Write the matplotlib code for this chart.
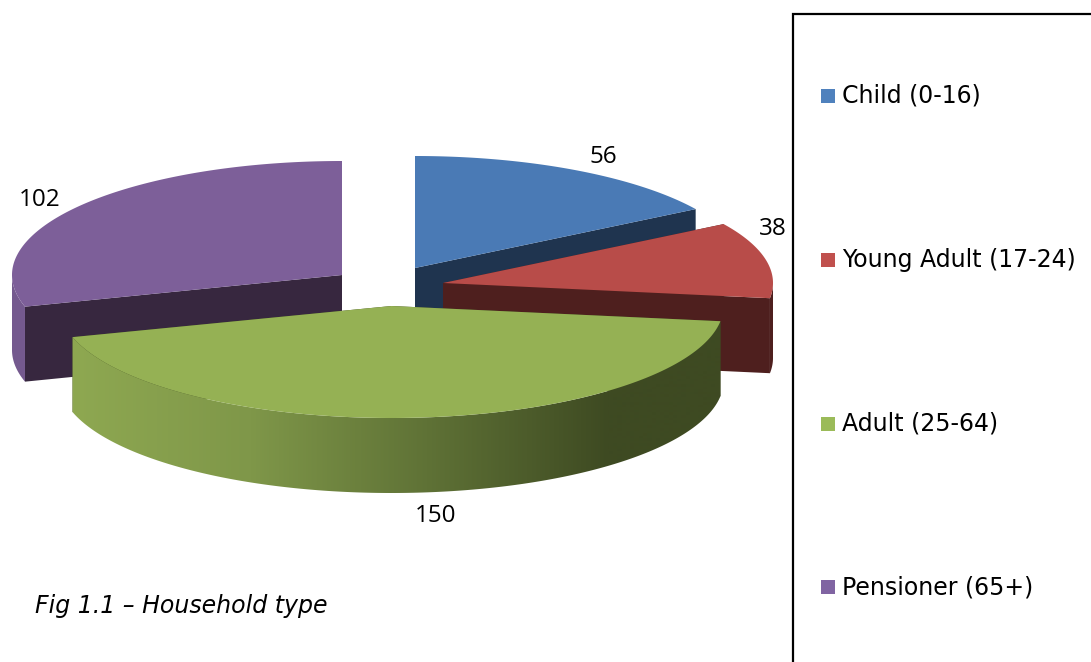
import numpy as np
import matplotlib
matplotlib.use("Agg")
import matplotlib.pyplot as plt
from matplotlib.patches import Polygon, Rectangle
from matplotlib.colors import LinearSegmentedColormap

categories = ["Child (0-16)", "Young Adult (17-24)", "Adult (25-64)", "Pensioner (65+)"]
values = [56, 38, 150, 102]
caption = "Fig 1.1 \u2013 Household type"

# Layout / style (pixel space)
W, H = 1091, 662
DEPTH = 75
radii_x = [330, 330, 332, 330]
radii_y = [112, 112, 112, 114]
apexes = [(415, 268), (443, 283), (391.5, 306), (342, 275)]
top_colors = ["#4a7ab5", "#b84c49", "#95b154", "#7d5f99"]
face_colors = ["#1f344f", "#4e1f1e", "#3e4a22", "#37273f"]
rim_colors = ["#1f344f", "#4e1f1e", None, "#74598e"]
legend_colors = ["#4f81bd", "#c0504d", "#9bbb59", "#8064a2"]
label_pos = [(603, 157), (773, 229), (436, 516), (40, 200)]
legend_y = [96, 260, 424, 587]
draw_order = [3, 0, 1, 2]
FONT = "DejaVu Sans"

fig = plt.figure(figsize=(W / 100, H / 100), dpi=100)
ax = fig.add_axes([0, 0, 1, 1])
ax.set_xlim(0, W)
ax.set_ylim(H, 0)
ax.axis("off")

total = sum(values)
edges = np.concatenate([[0], np.cumsum(values)]) / total * 360.0


def arc(i, a0, a1, dy=0, n=200):
    cx, cy = apexes[i]
    t = np.radians(np.linspace(a0, a1, n))
    return np.column_stack([cx + radii_x[i] * np.sin(t), cy - radii_y[i] * np.cos(t) + dy])


for i in draw_order:
    cx, cy = apexes[i]
    a0, a1 = edges[i], edges[i + 1]
    z = draw_order.index(i)
    # radial cut faces
    for a in (a0, a1):
        end = arc(i, a, a, n=1)[0]
        ax.add_patch(Polygon([(cx, cy), end, end + (0, DEPTH), (cx, cy + DEPTH)],
                             closed=True, fc=face_colors[i], ec="none", zorder=1 + z))
    # outer rim (only the part facing the viewer)
    r0, r1 = max(a0, 90), min(a1, 270)
    if r1 > r0:
        top = arc(i, r0, r1)
        bottom = arc(i, r1, r0, dy=DEPTH)
        rim = Polygon(np.vstack([top, bottom]), closed=True, ec="none",
                      fc=rim_colors[i] or "none", zorder=1.2 + z)
        ax.add_patch(rim)
        if rim_colors[i] is None:
            cmap = LinearSegmentedColormap.from_list(
                "rim", [(0, "#8ea851"), (0.33, "#7f9749"), (0.66, "#5f7236"), (1, "#3e4a22")])
            x0, x1 = top[:, 0].min(), 610
            grad = np.clip((np.linspace(0, W, 1092) - x0) / (x1 - x0), 0, 1)[None, :]
            im = ax.imshow(grad, cmap=cmap, extent=(0, W, H, 0), aspect="auto",
                           zorder=1.2 + z, interpolation="bilinear")
            im.set_clip_path(rim)
    # top face
    ax.add_patch(Polygon(np.vstack([[(cx, cy)], arc(i, a0, a1)]), closed=True,
                         fc=top_colors[i], ec="none", zorder=1.5 + z))

ax.set_xlim(0, W)
ax.set_ylim(H, 0)

for v, (x, y) in zip(values, label_pos):
    ax.text(x, y, str(v), ha="center", va="center", fontsize=17.5, family="Open Sans",
            color="black", zorder=10)

# Legend box
ax.plot([W, 792.5, 792.5], [13.5, 13.5, H], color="black", lw=1.6, zorder=10,
        solid_joinstyle="miter")
for name, c, y in zip(categories, legend_colors, legend_y):
    ax.add_patch(Rectangle((821, y - 7), 14, 14, fc=c, ec="none", zorder=10))
    ax.text(842, y, name, ha="left", va="center", fontsize=17, family=FONT,
            color="black", zorder=10)

ax.text(35, 606, caption, ha="left", va="center", fontsize=17, style="italic",
        family=FONT, color="black", zorder=10)

fig.savefig("out.png", dpi=100, facecolor="white")
